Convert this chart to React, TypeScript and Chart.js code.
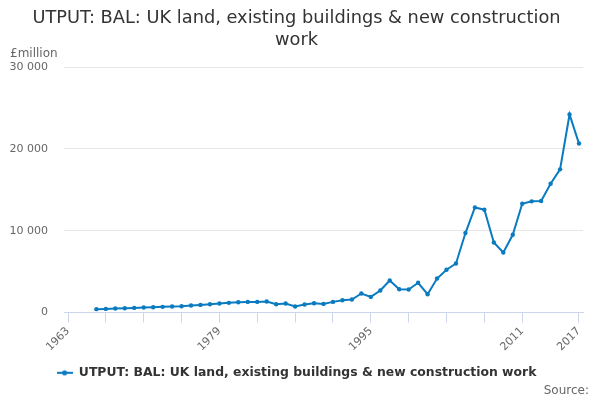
import React, { useEffect, useRef } from "react";
import { Chart, registerables } from "chart.js";

Chart.register(...registerables);

const titleLines = ["UTPUT: BAL: UK land, existing buildings & new construction", "work"];
const seriesName = "UTPUT: BAL: UK land, existing buildings & new construction work";
const yUnit = "£million";
const sourceText = "Source:";

const years: number[] = [
  1963, 1964, 1965, 1966, 1967, 1968, 1969, 1970, 1971, 1972, 1973, 1974, 1975, 1976,
  1977, 1978, 1979, 1980, 1981, 1982, 1983, 1984, 1985, 1986, 1987, 1988, 1989, 1990,
  1991, 1992, 1993, 1994, 1995, 1996, 1997, 1998, 1999, 2000, 2001, 2002, 2003, 2004,
  2005, 2006, 2007, 2008, 2009, 2010, 2011, 2012, 2013, 2014, 2015, 2016, 2017,
];

const values: (number | null)[] = [
  null, null, null, 420, 455, 495, 535, 575, 615, 655, 700, 740, 780, 860,
  940, 1020, 1105, 1190, 1270, 1310, 1310, 1350, 1025, 1105, 740, 985, 1150, 1065,
  1310, 1515, 1595, 2330, 1920, 2700, 3920, 2860, 2820, 3640, 2250, 4160, 5230, 6000,
  9720, 12850, 12570, 8570, 7340, 9510, 13300, 13590, 13630, 15750, 17500, 24200, 20650,
];

const xTickYears: number[] = [
  1963, 1967, 1971, 1975, 1979, 1983, 1987, 1991, 1995, 1999, 2003, 2007, 2011, 2017,
];
const xLabelYears: number[] = [1963, 1979, 1995, 2011, 2017];
const yTickValues: number[] = [0, 10000, 20000, 30000];

const LINE_COLOR = "#0a7bc1";
const FONT = "DejaVu Sans";

function fmt(v: number): string {
  return String(v).replace(/\B(?=(\d{3})+(?!\d))/g, " ");
}

const extraText = {
  id: "extraText",
  afterDraw(chart: any) {
    const ctx = chart.ctx;
    ctx.save();
    ctx.font = `12px "${FONT}"`;
    ctx.fillStyle = "#666666";
    ctx.textBaseline = "alphabetic";
    ctx.textAlign = "left";
    ctx.fillText(yUnit, 10, 57);
    ctx.textAlign = "right";
    ctx.fillText(sourceText, 589, 394);
    ctx.restore();
  },
};

export default function App() {
  const ref = useRef<HTMLCanvasElement | null>(null);

  useEffect(() => {
    document.body.style.margin = "0";
    const canvas = ref.current;
    if (!canvas) return;

    const sym = document.createElement("canvas");
    sym.width = 16;
    sym.height = 8;
    const sctx = sym.getContext("2d");
    if (sctx) {
      sctx.strokeStyle = LINE_COLOR;
      sctx.lineWidth = 2;
      sctx.beginPath();
      sctx.moveTo(0, 4);
      sctx.lineTo(16, 4);
      sctx.stroke();
      sctx.fillStyle = LINE_COLOR;
      sctx.beginPath();
      sctx.arc(8, 4, 2.6, 0, Math.PI * 2);
      sctx.fill();
    }

    const chart = new Chart(canvas, {
      type: "line",
      data: {
        datasets: [
          {
            label: seriesName,
            data: years.map((y, i) => ({ x: y, y: values[i] })),
            borderColor: LINE_COLOR,
            backgroundColor: LINE_COLOR,
            borderWidth: 2,
            pointRadius: 2.2,
            pointBorderWidth: 0,
            pointBackgroundColor: LINE_COLOR,
            tension: 0,
            spanGaps: false,
          },
        ],
      },
      options: {
        responsive: false,
        animation: false,
        layout: { padding: { left: 10, right: 17, top: 0, bottom: 11 } },
        font: { family: FONT },
        plugins: {
          title: {
            display: true,
            text: titleLines,
            color: "#333333",
            font: { family: FONT, size: 17.8, weight: "normal", lineHeight: 1.22 },
            padding: { top: 8, bottom: 15.6 },
          },
          legend: {
            position: "bottom",
            labels: {
              usePointStyle: true,
              pointStyle: sym,
              pointStyleWidth: 16,
              color: "#333333",
              font: { family: FONT, size: 12.4, weight: "bold" },
              padding: 10,
            },
          },
          tooltip: { enabled: false },
        },
        scales: {
          x: {
            type: "linear",
            min: 1962.577,
            max: 2017.423,
            afterBuildTicks: (s: any) => {
              s.ticks = xTickYears.map((v) => ({ value: v }));
            },
            afterFit: (s: any) => {
              s.height = 44;
            },
            ticks: {
              autoSkip: false,
              minRotation: 45,
              maxRotation: 45,
              padding: 2,
              color: "#666666",
              font: { family: FONT, size: 11 },
              callback: (v: any) => (xLabelYears.includes(Number(v)) ? String(v) : ""),
            },
            grid: {
              display: true,
              drawOnChartArea: false,
              drawTicks: true,
              tickLength: 10,
              color: "#ccd6eb",
              lineWidth: 1,
            },
            border: { display: true, color: "#ccd6eb", width: 1 },
          },
          y: {
            min: 0,
            max: 30000,
            afterBuildTicks: (s: any) => {
              s.ticks = yTickValues.map((v) => ({ value: v }));
            },
            afterFit: (s: any) => {
              s.width = 54;
            },
            ticks: {
              padding: 16,
              color: "#666666",
              font: { family: FONT, size: 11 },
              callback: (v: any) => fmt(Number(v)),
            },
            grid: { color: "#e6e6e6", drawTicks: false, lineWidth: 1 },
            border: { display: false },
          },
        },
      },
      plugins: [extraText],
    });

    return () => chart.destroy();
  }, []);

  return (
    <div style={{ width: 600, height: 400, background: "#ffffff" }}>
      <canvas ref={ref} width={600} height={400} style={{ display: "block" }} />
    </div>
  );
}
